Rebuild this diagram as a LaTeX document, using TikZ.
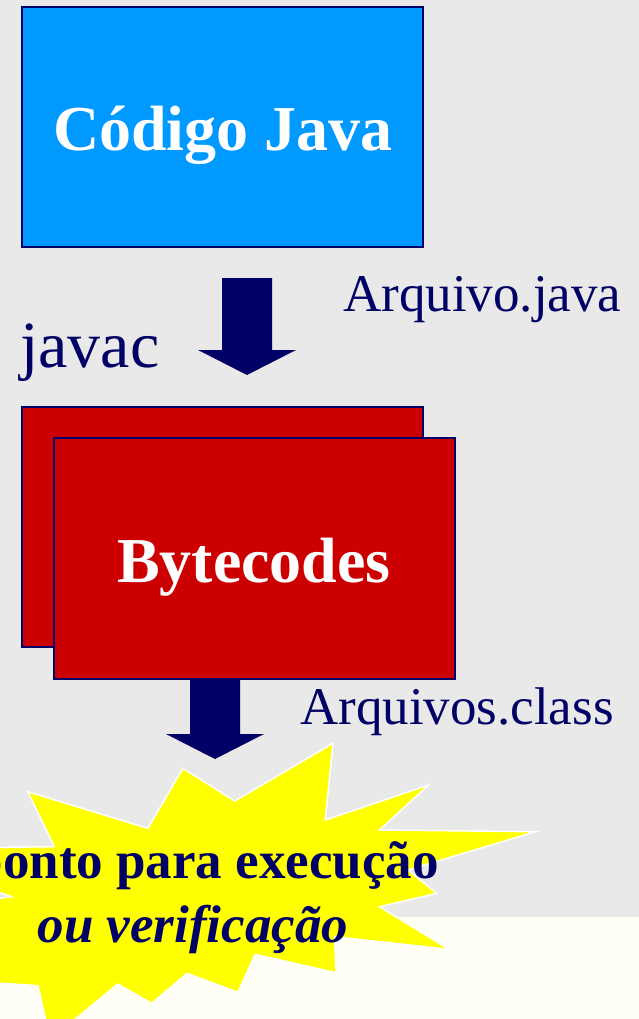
\documentclass[tikz,border=0pt]{standalone}
\usepackage{fontspec}
\setmainfont{Liberation Serif}
\definecolor{bggray}{HTML}{E9E9E9}
\definecolor{cream}{HTML}{FFFFF8}
\definecolor{javablue}{HTML}{0099FF}
\definecolor{navy}{HTML}{000066}
\definecolor{bytered}{HTML}{CC0000}
\definecolor{staryellow}{HTML}{FFFF00}
\tikzset{
  box/.style={draw=navy, line width=1.8pt},
  bigtext/.style={inner sep=0pt, anchor=base, text=white, font=\fontsize{64}{70}\selectfont\bfseries},
  lbl/.style={inner sep=0pt, text=navy, font=\fontsize{53}{60}\selectfont},
  blockarrow/.style={fill=navy, draw=none},
  burst/.style={fill=staryellow, draw=white, line width=1.5pt, line join=miter},
  bursttext/.style={inner sep=0pt, text=navy, font=\fontsize{53}{60}\selectfont\bfseries}
}
\begin{document}
\begin{tikzpicture}[x=1pt,y=-1pt]
\useasboundingbox (0,0) rectangle (639,1019);
\clip (0,0) rectangle (639,1019);
\fill[bggray] (0,0) rectangle (639,917);
\fill[cream] (0,917) rectangle (639,1019);

% Java source box
\draw[box, fill=javablue] (22,7) rectangle (423,247);
\node[bigtext] (java) at (223,151) {Código Java};

% arrow 1
\fill[blockarrow] (222,278) -- (272,278) -- (272,350) -- (296,350) -- (247,375) -- (198,350) -- (222,350) -- cycle;
\node[lbl, anchor=base west] (arqjava) at (343,311) {Arquivo.java};
\node[inner sep=0pt, text=navy, anchor=base west, font=\fontsize{66}{72}\selectfont] (javac) at (20,367) {javac};

% Bytecodes boxes
\draw[box, fill=bytered] (22,407) rectangle (423,647);
\draw[box, fill=bytered] (54,438) rectangle (455,679);
\node[bigtext] (byte) at (254,582) {Bytecodes};

% arrow 2
\fill[blockarrow] (190,679) -- (240,679) -- (240,734) -- (264,734) -- (215,759) -- (166,734) -- (190,734) -- cycle;
\node[lbl, anchor=base west] (arqclass) at (300,724) {Arquivos.class};

% starburst
\draw[burst] (27.8,791.7) -- (147.8,828.3) -- (182.9,768.3) -- (234.7,801) -- (333,743.3)
  -- (325.3,820) -- (428.6,785) -- (379.6,830) -- (535.5,831.7) -- (408,870)
  -- (436.7,893.3) -- (379.6,906.7) -- (449,949.3) -- (334.7,936.7) -- (335.9,972.7)
  -- (255.1,954.3) -- (238,992.3) -- (187,973.3) -- (151.8,1003.3) -- (117.6,984)
  -- (50,1040) -- (38,985.7) -- (-60,979) -- (-5,940) -- (-50,905) -- (11.4,896.7)
  -- (-50,875) -- (-60,848) -- (54.3,846.7) -- cycle;
\node[bursttext, anchor=base east] (exec1) at (439,878) {ponto para execução};
\node[bursttext, anchor=base west, font=\fontsize{53}{60}\selectfont\bfseries\itshape] (exec2) at (37.5,942) {ou verificação};
\end{tikzpicture}
\end{document}
